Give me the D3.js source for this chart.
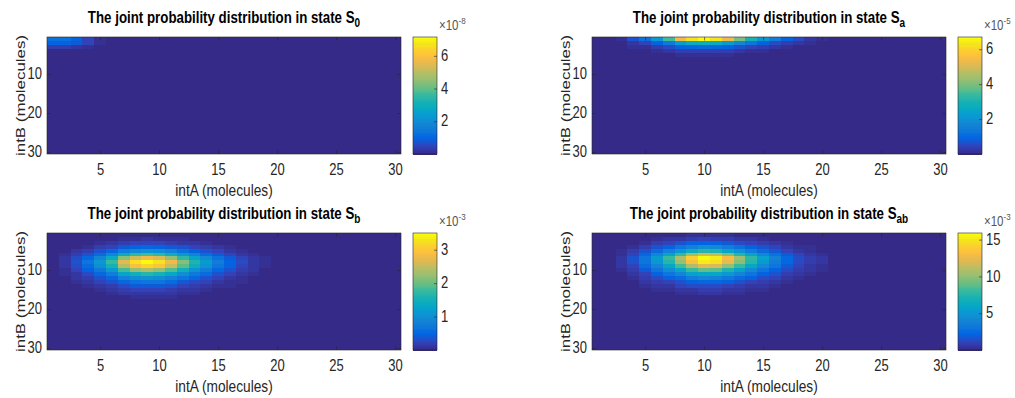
<!DOCTYPE html>
<html>
<head>
<meta charset="utf-8">
<script src="https://cdn.jsdelivr.net/npm/d3@7"></script>
<style>
  body { margin: 0; background: #fff; }
  text { font-family: "Liberation Sans", Arial, Helvetica, sans-serif; }
</style>
</head>
<body>
<svg id="chart" width="1015" height="398"></svg>
<script>
// ---- data ----
const xTicks = [5, 10, 15, 20, 25, 30];
const yTicks = [10, 20, 30];
const stateNames = ['0', 'a', 'b', 'ab'];
const exponents = ['-8', '-5', '-3', '-3'];

// colour limits (in units of the exponent shown on each colorbar)
const clim0 = [0, 7.15];
const climA = [0, 6.7];
const climB = [0, 3.5];
const climAB = [0, 15.9];
const cbTicks0 = [2, 4, 6];
const cbTicksA = [2, 4, 6];
const cbTicksB = [1, 2, 3];
const cbTicksAB = [5, 10, 15];

// non-zero block of each matrix; everything outside is 0
// S0 : rows 1..3, cols 1..6  (x1e-8)
const s0Start = [1, 1];
const s0Values = [
  [1.3, 1.3, 1.0, 0.55, 0.2, 0.05],
  [1.0, 1.0, 0.8, 0.45, 0.18, 0.05],
  [0.35, 0.35, 0.3, 0.15, 0.05, 0]
];
// Sa : rows 1..5, cols 3..20  (x1e-5)
const saStart = [1, 3];
const saValues = [
  [0.2, 0.67, 1.21, 2.14, 3.48, 5.36, 6.23, 6.7, 6.37, 5.36, 4.02, 3.02, 2.14, 1.47, 0.94, 0.54, 0.27, 0.13],
  [0.08, 0.28, 0.51, 0.9, 1.46, 2.25, 2.62, 2.81, 2.68, 2.25, 1.69, 1.27, 0.9, 0.62, 0.39, 0.23, 0.11, 0.05],
  [0.03, 0.11, 0.19, 0.34, 0.56, 0.86, 1.0, 1.07, 1.02, 0.86, 0.64, 0.48, 0.34, 0.24, 0.15, 0.09, 0.04, 0.02],
  [0.01, 0.04, 0.07, 0.13, 0.21, 0.32, 0.37, 0.4, 0.38, 0.32, 0.24, 0.18, 0.13, 0.09, 0.06, 0.03, 0.02, 0.01],
  [0, 0.01, 0.02, 0.04, 0.07, 0.11, 0.12, 0.13, 0.13, 0.11, 0.08, 0.06, 0.04, 0.03, 0.02, 0.01, 0.01, 0]
];
// Sb : rows 2..18, cols 1..20  (x1e-3)
const sbStart = [2, 1];
const sbValues = [
  [0, 0, 0.01, 0.02, 0.03, 0.05, 0.08, 0.1, 0.11, 0.1, 0.08, 0.07, 0.05, 0.03, 0.02, 0.01, 0.01, 0, 0, 0],
  [0, 0.01, 0.02, 0.05, 0.08, 0.12, 0.19, 0.23, 0.25, 0.23, 0.2, 0.15, 0.11, 0.08, 0.05, 0.03, 0.02, 0.01, 0, 0],
  [0.01, 0.02, 0.05, 0.1, 0.17, 0.26, 0.41, 0.49, 0.53, 0.49, 0.42, 0.33, 0.24, 0.17, 0.12, 0.07, 0.04, 0.02, 0.01, 0.01],
  [0.02, 0.04, 0.11, 0.2, 0.34, 0.53, 0.81, 0.98, 1.05, 0.99, 0.84, 0.65, 0.48, 0.35, 0.23, 0.15, 0.08, 0.05, 0.02, 0.01],
  [0.03, 0.07, 0.18, 0.35, 0.58, 0.91, 1.4, 1.7, 1.82, 1.71, 1.46, 1.13, 0.84, 0.6, 0.4, 0.25, 0.15, 0.08, 0.04, 0.02],
  [0.04, 0.11, 0.28, 0.54, 0.9, 1.4, 2.16, 2.61, 2.8, 2.63, 2.24, 1.74, 1.29, 0.93, 0.62, 0.39, 0.22, 0.13, 0.06, 0.03],
  [0.05, 0.14, 0.35, 0.67, 1.12, 1.75, 2.7, 3.26, 3.5, 3.29, 2.8, 2.17, 1.61, 1.16, 0.77, 0.49, 0.28, 0.16, 0.07, 0.04],
  [0.05, 0.13, 0.32, 0.6, 1.01, 1.58, 2.43, 2.93, 3.15, 2.96, 2.52, 1.95, 1.45, 1.04, 0.69, 0.44, 0.25, 0.14, 0.06, 0.04],
  [0.03, 0.1, 0.24, 0.46, 0.76, 1.19, 1.84, 2.22, 2.38, 2.24, 1.9, 1.48, 1.09, 0.79, 0.52, 0.33, 0.19, 0.11, 0.05, 0.03],
  [0.02, 0.07, 0.16, 0.31, 0.53, 0.82, 1.27, 1.53, 1.65, 1.55, 1.32, 1.02, 0.76, 0.55, 0.36, 0.23, 0.13, 0.08, 0.03, 0.02],
  [0.02, 0.04, 0.11, 0.21, 0.35, 0.54, 0.84, 1.01, 1.09, 1.02, 0.87, 0.67, 0.5, 0.36, 0.24, 0.15, 0.09, 0.05, 0.02, 0.01],
  [0.01, 0.03, 0.07, 0.13, 0.22, 0.35, 0.54, 0.65, 0.7, 0.66, 0.56, 0.43, 0.32, 0.23, 0.15, 0.1, 0.06, 0.03, 0.01, 0.01],
  [0.01, 0.02, 0.04, 0.08, 0.13, 0.21, 0.32, 0.39, 0.42, 0.39, 0.34, 0.26, 0.19, 0.14, 0.09, 0.06, 0.03, 0.02, 0.01, 0],
  [0, 0.01, 0.02, 0.05, 0.08, 0.12, 0.19, 0.23, 0.25, 0.23, 0.2, 0.15, 0.11, 0.08, 0.05, 0.03, 0.02, 0.01, 0, 0],
  [0, 0.01, 0.01, 0.03, 0.04, 0.07, 0.11, 0.13, 0.14, 0.13, 0.11, 0.09, 0.06, 0.05, 0.03, 0.02, 0.01, 0.01, 0, 0],
  [0, 0, 0.01, 0.01, 0.02, 0.04, 0.05, 0.07, 0.07, 0.07, 0.06, 0.04, 0.03, 0.02, 0.02, 0.01, 0.01, 0, 0, 0],
  [0, 0, 0, 0.01, 0.01, 0.02, 0.03, 0.03, 0.04, 0.03, 0.03, 0.02, 0.02, 0.01, 0.01, 0, 0, 0, 0, 0]
];
// Sab : rows 1..18, cols 3..22  (x1e-3)
const sabStart = [1, 3];
const sabValues = [
  [0, 0, 0.1, 0.1, 0.2, 0.2, 0.3, 0.3, 0.3, 0.3, 0.2, 0.2, 0.1, 0.1, 0, 0, 0, 0, 0, 0],
  [0, 0.1, 0.2, 0.3, 0.5, 0.6, 0.8, 1.0, 0.9, 0.8, 0.6, 0.5, 0.3, 0.2, 0.1, 0.1, 0.1, 0, 0, 0],
  [0.1, 0.2, 0.4, 0.8, 1.1, 1.5, 2.0, 2.2, 2.2, 1.8, 1.4, 1.1, 0.8, 0.5, 0.3, 0.2, 0.1, 0.1, 0, 0],
  [0.2, 0.4, 0.9, 1.5, 2.2, 3.0, 3.9, 4.5, 4.3, 3.6, 2.9, 2.2, 1.6, 1.1, 0.7, 0.4, 0.3, 0.1, 0.1, 0],
  [0.3, 0.8, 1.5, 2.6, 3.8, 5.2, 6.7, 7.6, 7.4, 6.2, 4.9, 3.7, 2.7, 1.8, 1.2, 0.7, 0.4, 0.2, 0.1, 0],
  [0.4, 1.2, 2.4, 4.0, 5.9, 8.0, 10.4, 11.8, 11.4, 9.6, 7.6, 5.8, 4.1, 2.8, 1.8, 1.0, 0.7, 0.4, 0.1, 0.1],
  [0.6, 1.6, 3.2, 5.4, 8.0, 10.8, 14.0, 15.9, 15.4, 13.0, 10.3, 7.8, 5.6, 3.8, 2.4, 1.4, 0.9, 0.5, 0.2, 0.1],
  [0.6, 1.5, 3.1, 5.2, 7.7, 10.4, 13.4, 15.3, 14.8, 12.5, 9.9, 7.5, 5.4, 3.6, 2.3, 1.3, 0.9, 0.5, 0.2, 0.1],
  [0.5, 1.2, 2.5, 4.2, 6.2, 8.4, 10.9, 12.4, 12.0, 10.1, 8.0, 6.1, 4.4, 3.0, 1.9, 1.1, 0.7, 0.4, 0.2, 0.1],
  [0.3, 0.9, 1.8, 3.1, 4.6, 6.2, 8.0, 9.1, 8.8, 7.4, 5.9, 4.4, 3.2, 2.2, 1.4, 0.8, 0.5, 0.3, 0.1, 0.1],
  [0.2, 0.6, 1.2, 2.1, 3.1, 4.2, 5.5, 6.2, 6.0, 5.1, 4.0, 3.0, 2.2, 1.5, 0.9, 0.5, 0.4, 0.2, 0.1, 0],
  [0.2, 0.4, 0.8, 1.4, 2.0, 2.7, 3.5, 4.0, 3.9, 3.3, 2.6, 2.0, 1.4, 1.0, 0.6, 0.4, 0.2, 0.1, 0.1, 0],
  [0.1, 0.2, 0.5, 0.8, 1.2, 1.6, 2.1, 2.4, 2.3, 2.0, 1.5, 1.2, 0.8, 0.6, 0.4, 0.2, 0.1, 0.1, 0, 0],
  [0.1, 0.1, 0.3, 0.5, 0.7, 1.0, 1.3, 1.4, 1.4, 1.2, 0.9, 0.7, 0.5, 0.3, 0.2, 0.1, 0.1, 0, 0, 0],
  [0, 0.1, 0.2, 0.3, 0.4, 0.5, 0.7, 0.8, 0.8, 0.7, 0.5, 0.4, 0.3, 0.2, 0.1, 0.1, 0, 0, 0, 0],
  [0, 0, 0.1, 0.2, 0.2, 0.3, 0.4, 0.5, 0.5, 0.4, 0.3, 0.2, 0.2, 0.1, 0.1, 0, 0, 0, 0, 0],
  [0, 0, 0, 0.1, 0.1, 0.2, 0.2, 0.2, 0.2, 0.2, 0.2, 0.1, 0.1, 0.1, 0, 0, 0, 0, 0, 0],
  [0, 0, 0, 0, 0.1, 0.1, 0.1, 0.1, 0.1, 0.1, 0.1, 0.1, 0, 0, 0, 0, 0, 0, 0, 0]
];

// parula colormap stops (MATLAB)
const parulaStops = ['#352a87', '#3243ba', '#0363e1', '#0d75dc', '#1485d4', '#0998d1',
  '#06a7c6', '#15b1b4', '#38b99e', '#65be86', '#92bf73', '#b7bd64', '#d9ba56',
  '#f8bb44', '#fcce2e', '#f5e41d', '#f9fb0e'];
const parulaPos = [0, 4, 8, 12, 16, 20, 24, 28, 32, 36, 40, 44, 48, 52, 56, 60, 63].map(i => i / 63);
const cmap = d3.scaleLinear().domain(parulaPos).range(parulaStops).interpolate(d3.interpolateRgb);
const nColors = 64;

// ---- layout ----
const W = 354, H = 117;
const stretch = 1.2;   // the source figure is squashed: text is taller than wide
const panels = [
  { left: 47,  top: 37,  name: stateNames[0], exp: exponents[0], start: s0Start,  values: s0Values,  clim: clim0,  cbTicks: cbTicks0 },
  { left: 592, top: 37,  name: stateNames[1], exp: exponents[1], start: saStart,  values: saValues,  clim: climA,  cbTicks: cbTicksA },
  { left: 47,  top: 233, name: stateNames[2], exp: exponents[2], start: sbStart,  values: sbValues,  clim: climB,  cbTicks: cbTicksB },
  { left: 592, top: 233, name: stateNames[3], exp: exponents[3], start: sabStart, values: sabValues, clim: climAB, cbTicks: cbTicksAB }
];

const svg = d3.select('#chart');
const ink = '#262626';

function colorFor(v, clim) {
  let t = (v - clim[0]) / (clim[1] - clim[0]);
  let k = Math.floor(t * nColors);
  k = Math.max(0, Math.min(nColors - 1, k));
  return cmap(k / (nColors - 1));
}

function styleAxis(g, size) {
  g.attr('font-size', null).attr('font-family', null);
  g.select('.domain').remove();
  g.selectAll('line').attr('stroke', ink).attr('stroke-width', 0.6);
  g.selectAll('text').attr('fill', ink).style('font-size', size + 'px')
    .attr('transform', `scale(1,${stretch})`);
}

// text placed at (x,y) and stretched vertically
function label(g, x, y) {
  return g.append('text').attr('transform', `translate(${x},${y}) scale(1,${stretch})`);
}

panels.forEach(p => {
  const g = svg.append('g');
  const x = d3.scaleLinear().domain([0.5, 30.5]).range([p.left, p.left + W]);
  const y = d3.scaleLinear().domain([0.5, 30.5]).range([p.top, p.top + H]);

  // full 30x30 grid
  const cells = [];
  for (let r = 1; r <= 30; r++) {
    for (let c = 1; c <= 30; c++) {
      const rr = r - p.start[0], cc = c - p.start[1];
      let v = 0;
      if (rr >= 0 && rr < p.values.length && cc >= 0 && cc < p.values[rr].length) v = p.values[rr][cc];
      cells.push({ r, c, v });
    }
  }
  g.append('g').attr('shape-rendering', 'crispEdges')
    .selectAll('rect').data(cells).join('rect')
    .attr('x', d => x(d.c - 0.5))
    .attr('y', d => y(d.r - 0.5))
    .attr('width', d => x(d.c + 0.5) - x(d.c - 0.5))
    .attr('height', d => y(d.r + 0.5) - y(d.r - 0.5))
    .attr('fill', d => colorFor(d.v, p.clim));

  // axes (ticks point inward, box on)
  const tl = 3.5;
  const gb = g.append('g').attr('transform', `translate(0,${p.top + H})`)
    .call(d3.axisBottom(x).tickValues(xTicks).tickSizeInner(-tl).tickSizeOuter(0).tickPadding(8.3));
  styleAxis(gb, 13);
  const gt = g.append('g').attr('transform', `translate(0,${p.top})`)
    .call(d3.axisTop(x).tickValues(xTicks).tickSizeInner(-tl).tickSizeOuter(0).tickFormat(''));
  styleAxis(gt, 13);
  const gl = g.append('g').attr('transform', `translate(${p.left},0)`)
    .call(d3.axisLeft(y).tickValues(yTicks).tickSizeInner(-tl).tickSizeOuter(0).tickPadding(5));
  styleAxis(gl, 13);
  gl.selectAll('text').attr('dy', '0.3em');
  const gr = g.append('g').attr('transform', `translate(${p.left + W},0)`)
    .call(d3.axisRight(y).tickValues(yTicks).tickSizeInner(-tl).tickSizeOuter(0).tickFormat(''));
  styleAxis(gr, 13);

  g.append('rect').attr('x', p.left).attr('y', p.top).attr('width', W).attr('height', H)
    .attr('fill', 'none').attr('stroke', ink).attr('stroke-width', 0.6);

  // labels
  const cx = p.left + W / 2;
  label(g, cx, p.top + H + 42)
    .attr('text-anchor', 'middle').attr('fill', ink).style('font-size', '13.7px')
    .text('intA (molecules)');
  g.append('text')
    .attr('transform', `translate(${p.left - 22},${p.top + H / 2}) rotate(-90)`)
    .attr('text-anchor', 'middle').attr('fill', ink).style('font-size', '13.7px')
    .attr('textLength', 121).attr('lengthAdjust', 'spacingAndGlyphs')
    .text('intB (molecules)');

  const title = label(g, cx, p.top - 14.5)
    .attr('text-anchor', 'middle').attr('fill', '#000')
    .style('font-size', '13.3px').style('font-weight', 'bold');
  title.append('tspan').text('The joint probability distribution in state S');
  title.append('tspan').attr('dy', 3.5).style('font-size', '10px').text(p.name);

  // colorbar
  const cbX = p.left + W + 12, cbW = 24;
  const cy = d3.scaleLinear().domain(p.clim).range([p.top + H, p.top]);
  const steps = d3.range(nColors);
  const band = H / nColors;
  g.append('g').attr('shape-rendering', 'crispEdges')
    .selectAll('rect').data(steps).join('rect')
    .attr('x', cbX).attr('width', cbW)
    .attr('y', k => p.top + H - (k + 1) * band)
    .attr('height', band + 0.5)
    .attr('fill', k => cmap(k / (nColors - 1)));
  g.append('rect').attr('x', cbX).attr('y', p.top).attr('width', cbW).attr('height', H)
    .attr('fill', 'none').attr('stroke', ink).attr('stroke-width', 0.6);
  const gc = g.append('g').attr('transform', `translate(${cbX + cbW},0)`)
    .call(d3.axisRight(cy).tickValues(p.cbTicks).tickFormat(d3.format('d'))
      .tickSizeInner(-3).tickSizeOuter(0).tickPadding(4));
  styleAxis(gc, 13);
  gc.selectAll('text').attr('dy', '0.3em');

  const ex = label(g, cbX + cbW + 2, p.top - 7.5)
    .attr('fill', '#555').style('font-size', '11.5px');
  ex.append('tspan').text('\u00d710');
  ex.append('tspan').attr('dy', -4.5).style('font-size', '8px').text(p.exp);
});
</script>
</body>
</html>
